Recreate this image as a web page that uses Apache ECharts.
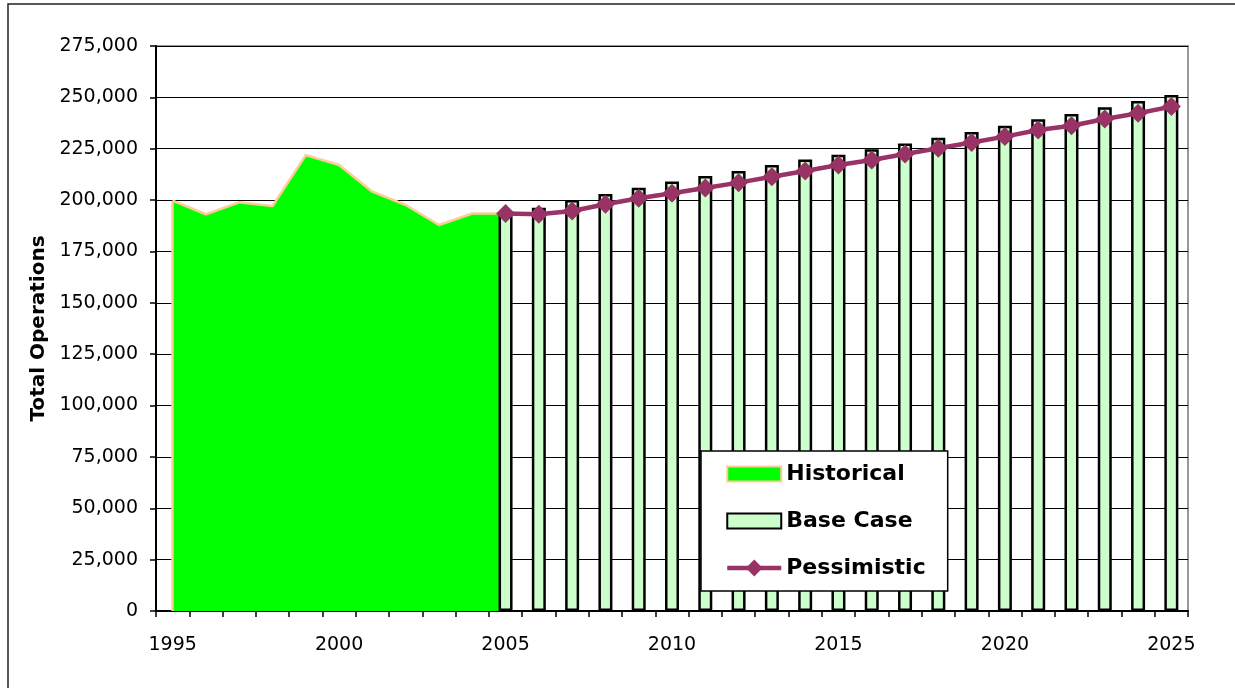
<!DOCTYPE html>
<html>
<head>
<meta charset="utf-8">
<script src="https://cdn.jsdelivr.net/npm/echarts@6/dist/echarts.min.js"></script>
<style>
html,body{margin:0;padding:0;background:#fff;}
#chart{width:1235px;height:688px;}
</style>
</head>
<body>
<div id="chart"></div>
<script>
var years = ['1995','1996','1997','1998','1999','2000','2001','2002','2003','2004','2005',
  '2006','2007','2008','2009','2010','2011','2012','2013','2014','2015',
  '2016','2017','2018','2019','2020','2021','2022','2023','2024','2025'];

var historical = [199700,193100,198900,197100,221900,217100,204100,197600,187900,193500,193500,
  null,null,null,null,null,null,null,null,null,null,
  null,null,null,null,null,null,null,null,null,null];

var baseCase = [null,null,null,null,null,null,null,null,null,null,193600,
  196300,200000,203000,206000,209000,211700,214200,217100,219700,222100,
  224700,227600,230400,233200,236200,239300,241900,245200,248200,251200];

var pessimistic = [null,null,null,null,null,null,null,null,null,null,193500,
  193100,194700,198000,200900,203300,205900,208500,211400,214200,217100,
  219500,222400,225200,228000,230900,234100,236200,239500,242300,245500];

var yTicks = {min: 0, max: 275000, interval: 25000};

var chart = echarts.init(document.getElementById('chart'), null, {renderer: 'canvas'});

var rectIcon = 'path://M0,0H54V15H0Z';

var option = {
  animation: false,
  backgroundColor: '#fff',
  graphic: [{
    type: 'rect',
    shape: {x: 8, y: 4, width: 1400, height: 900},
    style: {fill: 'none', stroke: '#222', lineWidth: 1.5},
    silent: true,
    z: -1
  }],
  grid: {
    left: 156, top: 46, right: 47, bottom: 77,
    show: true, borderColor: '#999', borderWidth: 2, backgroundColor: 'transparent'
  },
  legend: {
    orient: 'vertical',
    left: 701, top: 451,
    backgroundColor: '#fff',
    borderColor: '#000',
    borderWidth: 1.5,
    padding: [12, 22, 12, 24],
    itemWidth: 54,
    itemHeight: 21,
    itemGap: 25,
    symbolKeepAspect: true,
    textStyle: {fontFamily: 'DejaVu Sans', fontWeight: 'bold', fontSize: 22, color: '#000'},
    data: [
      {name: 'Historical', icon: rectIcon, itemStyle: {color: '#00ff00', borderColor: '#ffcc99', borderWidth: 2}},
      {name: 'Base Case', icon: rectIcon, itemStyle: {color: '#ccffcc', borderColor: '#000', borderWidth: 2}},
      {name: 'Pessimistic', lineStyle: {width: 4.5, color: '#993366'}, itemStyle: {color: '#993366'}}
    ]
  },
  xAxis: {
    type: 'category',
    data: years,
    boundaryGap: true,
    axisLine: {lineStyle: {color: '#000', width: 2}},
    axisTick: {show: true, interval: 0, alignWithLabel: false, length: 6, lineStyle: {color: '#000', width: 1.5}},
    axisLabel: {interval: 4, margin: 25, fontFamily: 'DejaVu Sans', fontSize: 19, color: '#000'},
    splitLine: {show: false}
  },
  yAxis: {
    type: 'value',
    min: yTicks.min, max: yTicks.max, interval: yTicks.interval,
    name: 'Total Operations',
    nameLocation: 'middle',
    nameGap: 96,
    nameTextStyle: {fontFamily: 'DejaVu Sans', fontWeight: 'bold', fontSize: 20, color: '#000'},
    axisLine: {show: true, lineStyle: {color: '#000', width: 2}},
    axisTick: {show: true, length: 6, lineStyle: {color: '#000', width: 1.5}},
    axisLabel: {
      margin: 18, fontFamily: 'DejaVu Sans', fontSize: 19, color: '#000',
      formatter: function (v) { return v.toLocaleString('en-US'); }
    },
    splitLine: {show: true, lineStyle: {color: '#000', width: 1}}
  },
  series: [
    {
      name: 'Historical',
      type: 'line',
      data: historical,
      symbol: 'none',
      lineStyle: {color: '#ffcc99', width: 2.5},
      itemStyle: {color: '#00ff00'},
      areaStyle: {color: '#00ff00', opacity: 1},
      markLine: {
        silent: true,
        symbol: 'none',
        label: {show: false},
        lineStyle: {color: '#ffcc99', width: 2.5, type: 'solid'},
        data: [[{coord: [years[0], 0]}, {coord: [years[0], historical[0]]}]]
      },
      z: 2
    },
    {
      name: 'Base Case',
      type: 'bar',
      data: baseCase,
      barWidth: 14,
      itemStyle: {color: '#ccffcc', borderColor: '#000', borderWidth: 2.5},
      z: 3
    },
    {
      name: 'Pessimistic',
      type: 'line',
      data: pessimistic,
      symbol: 'diamond',
      symbolSize: 19,
      lineStyle: {color: '#993366', width: 4.5},
      itemStyle: {color: '#993366'},
      z: 4
    }
  ]
};
chart.setOption(option);
</script>
</body>
</html>
